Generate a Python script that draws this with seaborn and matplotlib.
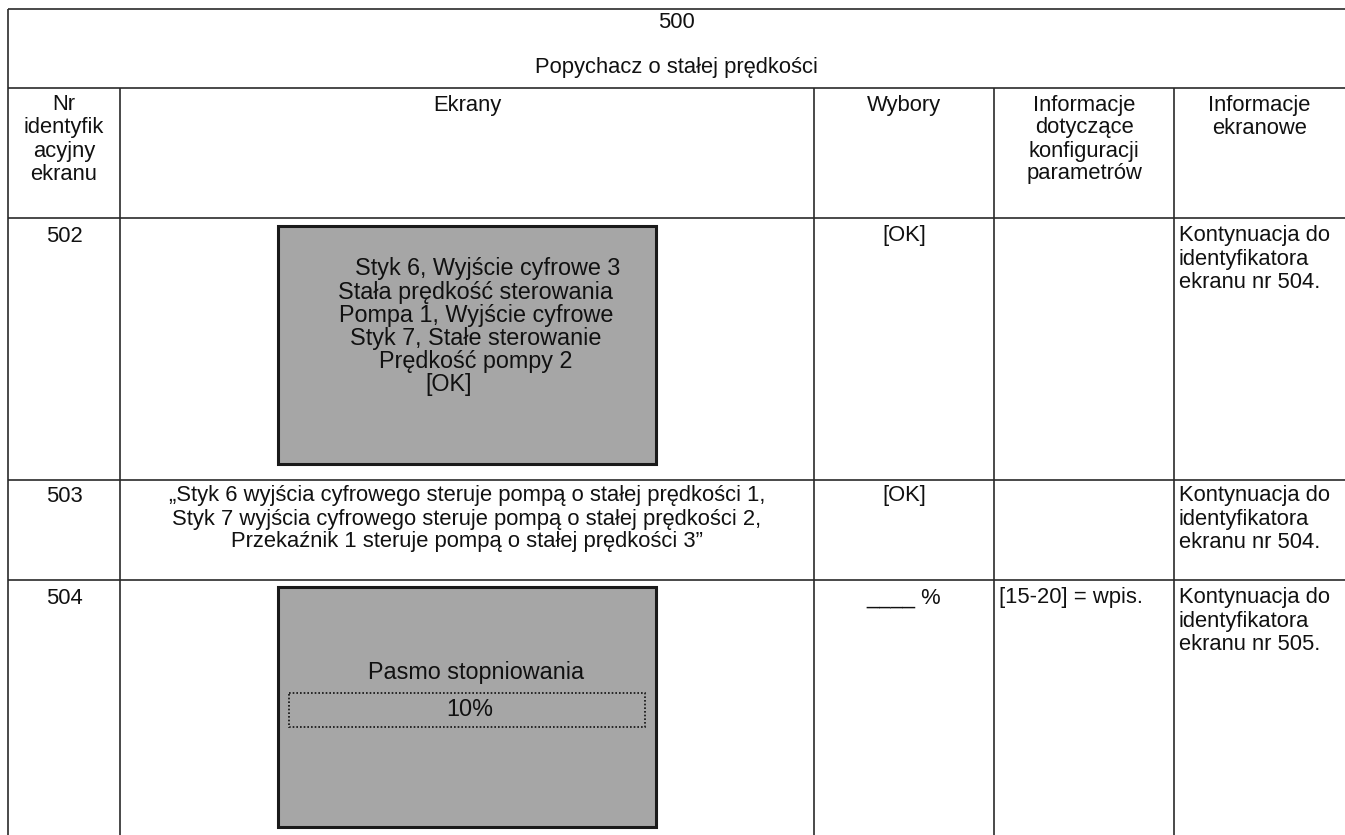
import matplotlib
matplotlib.use("Agg")
import matplotlib.pyplot as plt
from matplotlib.patches import Rectangle
import seaborn as sns

# ---------------- data (texts of the table) ----------------
title_number = "500"
title_text = "Popychacz o stałej prędkości"
headers = ["Nr\nidentyfik\nacyjny\nekranu", "Ekrany", "Wybory",
           "Informacje\ndotyczące\nkonfiguracji\nparametrów", "Informacje\nekranowe"]
row_ids = ["502", "503", "504"]
choices = ["[OK]", "[OK]", "____ %"]
config_info = ["", "", "[15-20] = wpis."]
screen_info = ["Kontynuacja do\nidentyfikatora\nekranu nr 504.",
               "Kontynuacja do\nidentyfikatora\nekranu nr 504.",
               "Kontynuacja do\nidentyfikatora\nekranu nr 505."]
screen_502 = ["Styk 6, Wyjście cyfrowe 3", "Stała prędkość sterowania",
              "Pompa 1, Wyjście cyfrowe", "Styk 7, Stałe sterowanie",
              "Prędkość pompy 2", "[OK]"]
text_503 = ["„Styk 6 wyjścia cyfrowego steruje pompą o stałej prędkości 1,",
            "Styk 7 wyjścia cyfrowego steruje pompą o stałej prędkości 2,",
            "Przekaźnik 1 steruje pompą o stałej prędkości 3”"]
screen_504_label = "Pasmo stopniowania"
screen_504_value = "10%"

# ---------------- style ----------------
sns.set_theme(style="white")
plt.rcParams['font.family'] = ['Liberation Sans', 'DejaVu Sans']

W, H = 1345, 835
fig = plt.figure(figsize=(W / 100, H / 100), dpi=100)
ax = fig.add_axes([0, 0, 1, 1])
ax.set_xlim(0, W)
ax.set_ylim(H, 0)
ax.axis("off")

# layout
xl = 8
cols = [xl, 120, 814, 994, 1174, W]
rows_y = [9, 88, 218, 480, 580]
line_kw = dict(color="#2a2a2a", lw=1.2, solid_capstyle="butt")
FS = 15.8
FSB = 16.8
LS = 23
TXT = "#111111"

for y in rows_y:
    ax.plot([xl, W], [y, y], **line_kw)
ax.plot([xl, xl], [rows_y[0], H], **line_kw)
for x in cols[1:-1]:
    ax.plot([x, x], [rows_y[1], H], **line_kw)

def lines(x, y0, txt, ha="center", fs=FS, step=LS):
    for i, t in enumerate(txt.split("\n")):
        ax.text(x, y0 + i * step, t, ha=ha, va="center", fontsize=fs, color=TXT)

# title
lines((xl + W) / 2, 22, title_number)
lines((xl + W) / 2, 67, title_text)

# headers
for i, h in enumerate(headers):
    cx = (cols[i] + cols[i + 1]) / 2
    lines(cx, 105, h)

# body rows
row_top = [236, 496, 598]
for r in range(3):
    lines((cols[0] + cols[1]) / 2, row_top[r], row_ids[r])
    lines((cols[2] + cols[3]) / 2, row_top[r], choices[r])
    if config_info[r]:
        lines(cols[3] + 5, row_top[r], config_info[r], ha="left")
    lines(cols[4] + 5, row_top[r], screen_info[r], ha="left")

# screen 502 box
bx0, bx1 = 278, 656
ax.add_patch(Rectangle((bx0, 226), bx1 - bx0, 464 - 226, facecolor="#a6a6a6",
                       edgecolor="#1a1a1a", lw=2.2))
bcx = (bx0 + bx1) / 2 + 9
line_dx = [12, 0, 0, 0, 0, -27]
for i, t in enumerate(screen_502):
    ax.text(bcx + line_dx[i], 269 + i * 23.2, t, ha="center", va="center",
            fontsize=FSB, color=TXT)

# row 503 text
cx2 = (cols[1] + cols[2]) / 2
for i, t in enumerate(text_503):
    ax.text(cx2, row_top[1] + i * LS, t, ha="center", va="center", fontsize=FS, color=TXT)

# screen 504 box
ax.add_patch(Rectangle((bx0, 587), bx1 - bx0, 827 - 587, facecolor="#a6a6a6",
                       edgecolor="#1a1a1a", lw=2.2))
ax.text(bcx, 672, screen_504_label, ha="center", va="center", fontsize=FSB, color=TXT)
ax.add_patch(Rectangle((bx0 + 11, 693), (bx1 - bx0) - 22, 34, facecolor="none",
                       edgecolor="#111111", lw=1.2, ls=(0, (1, 1.2))))
ax.text(bcx - 6, 710, screen_504_value, ha="center", va="center", fontsize=FSB, color=TXT)

fig.savefig("out.png", dpi=100)
